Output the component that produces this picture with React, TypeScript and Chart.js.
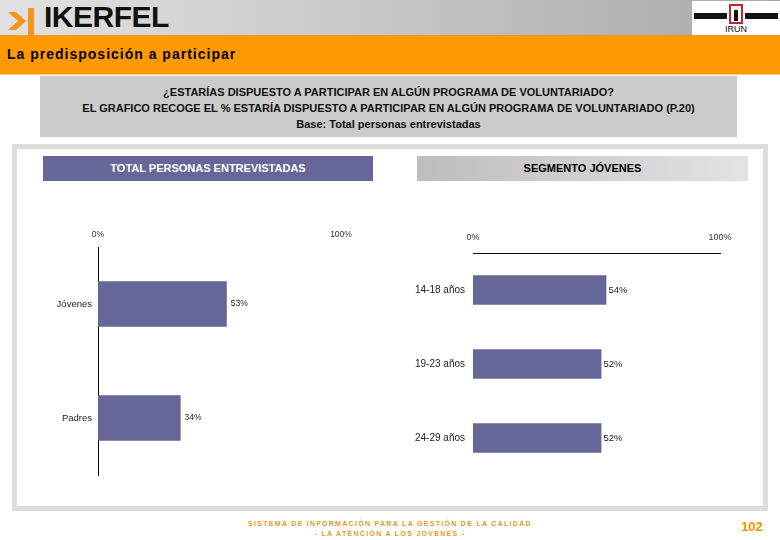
import React, { useEffect, useRef } from "react";
import { Chart, registerables } from "chart.js";

Chart.register(...registerables);

const leftCategories = ["Jóvenes", "Padres"];
const leftValues = [53, 34];
const rightCategories = ["14-18 años", "19-23 años", "24-29 años"];
const rightValues = [54, 52, 52];
const axisMin = 0;
const axisMax = 100;

const BAR = "#666699";
const FONT = "'Liberation Sans', Arial, sans-serif";

const valueLabels = (size: number, offset: number) => ({
  id: "valueLabels",
  afterDatasetsDraw(chart: any) {
    const ctx = chart.ctx;
    ctx.save();
    ctx.font = `${size}px ${FONT}`;
    ctx.fillStyle = "#222";
    ctx.textAlign = "left";
    ctx.textBaseline = "middle";
    chart.data.datasets.forEach((ds: any, i: number) => {
      chart.getDatasetMeta(i).data.forEach((el: any, j: number) => {
        ctx.fillText(ds.data[j] + "%", el.x + offset, el.y);
      });
    });
    ctx.restore();
  },
});

type Cfg = {
  labels: string[];
  values: number[];
  yWidth: number;
  xHeight: number;
  padRight: number;
  padBottom: number;
  tickFont: number;
  catFont: number;
  valFont: number;
  valOffset: number;
  catPad: number;
  tickPad: number;
  yBorder: boolean;
  xBorder: boolean;
};

function BarChart({ cfg, width, height, style }: { cfg: Cfg; width: number; height: number; style: any }) {
  const ref = useRef<HTMLCanvasElement>(null);
  useEffect(() => {
    if (!ref.current) return;
    const chart = new Chart(ref.current, {
      type: "bar",
      data: {
        labels: cfg.labels,
        datasets: [
          {
            data: cfg.values,
            backgroundColor: BAR,
            borderWidth: 0,
            barPercentage: 0.4,
            categoryPercentage: 1,
          },
        ],
      },
      options: {
        indexAxis: "y",
        responsive: false,
        animation: false,
        layout: { padding: { left: 0, top: 0, right: cfg.padRight, bottom: cfg.padBottom } },
        plugins: { legend: { display: false }, tooltip: { enabled: false } },
        scales: {
          x: {
            position: "top",
            min: axisMin,
            max: axisMax,
            grid: { display: false, drawTicks: false },
            border: { display: cfg.xBorder, color: "#000", width: 1 },
            ticks: {
              stepSize: axisMax - axisMin,
              padding: cfg.tickPad,
              color: "#333",
              font: { family: FONT, size: cfg.tickFont },
              maxRotation: 0,
              callback: (v: any) => v + "%",
            },
            afterFit: (s: any) => {
              s.height = cfg.xHeight;
            },
          },
          y: {
            grid: { display: false, drawTicks: false },
            border: { display: cfg.yBorder, color: "#000", width: 1 },
            ticks: {
              padding: cfg.catPad,
              color: "#222",
              font: { family: FONT, size: cfg.catFont },
            },
            afterFit: (s: any) => {
              s.width = cfg.yWidth;
            },
          },
        },
      },
      plugins: [valueLabels(cfg.valFont, cfg.valOffset)],
    });
    return () => chart.destroy();
  }, []);
  return <canvas ref={ref} width={width} height={height} style={{ position: "absolute", width, height, ...style }} />;
}

export default function App() {
  const leftCfg: Cfg = {
    labels: leftCategories,
    values: leftValues,
    yWidth: 81,
    xHeight: 47,
    padRight: 36,
    padBottom: 15,
    tickFont: 8.5,
    catFont: 9.5,
    valFont: 8.5,
    valOffset: 4,
    catPad: 6,
    tickPad: 7,
    yBorder: true,
    xBorder: false,
  };
  const rightCfg: Cfg = {
    labels: rightCategories,
    values: rightValues,
    yWidth: 78,
    xHeight: 53,
    padRight: 45,
    padBottom: 15,
    tickFont: 9,
    catFont: 10,
    valFont: 9.5,
    valOffset: 2,
    catPad: 8,
    tickPad: 10,
    yBorder: false,
    xBorder: true,
  };

  const box: any = { position: "absolute" };
  const hdrFont = "'Liberation Sans Narrow', 'Arial Narrow', " + FONT;
  return (
    <div style={{ position: "fixed", left: 0, top: 0, width: 780, height: 540, background: "#fff", overflow: "hidden", fontFamily: FONT }}>
      {/* top header */}
      <div style={{ ...box, left: 0, top: 0, width: 780, height: 35, background: "linear-gradient(to right, #e2e2e2, #a9a9a9)" }} />
      <svg style={{ position: "absolute", left: 6, top: 6 }} width={32} height={29}>
        <polygon points="2,6 10,6 20,15 10,24 2,24 12,15" fill="#f7941d" />
        <rect x={22} y={2} width={6} height={27} fill="#f7941d" />
      </svg>
      <div style={{ ...box, left: 44, top: 1, fontSize: 30, fontWeight: 900, color: "#111", letterSpacing: -0.5, lineHeight: "32px" }}>
        IKERFEL
      </div>
      {/* right logo */}
      <div style={{ ...box, left: 692, top: 1, width: 88, height: 34, background: "#fff" }} />
      <div style={{ ...box, left: 694, top: 13, width: 33, height: 6, background: "#111" }} />
      <div style={{ ...box, left: 745, top: 13, width: 33, height: 6, background: "#111" }} />
      <svg style={{ position: "absolute", left: 728, top: 2 }} width={16} height={24}>
        <rect x={2} y={3} width={12} height={18} fill="none" stroke="#c0272d" strokeWidth={2} />
        <rect x={6} y={8} width={4} height={11} fill="#111" />
      </svg>
      <div style={{ ...box, left: 722, top: 24, width: 28, textAlign: "center", fontSize: 9, color: "#111", lineHeight: "11px" }}>IRUN</div>

      {/* orange band */}
      <div style={{ ...box, left: 0, top: 35, width: 780, height: 40, background: "#ff9900" }} />
      <div style={{ ...box, left: 0, top: 74, width: 780, height: 1, background: "#ffd27a" }} />
      <div style={{ ...box, left: 7, top: 46, fontSize: 14, fontWeight: 700, letterSpacing: 1.0, color: "#000", lineHeight: "16px" }}>
        La predisposición a participar
      </div>

      {/* question box */}
      <div style={{ ...box, left: 40, top: 76, width: 697, height: 61, background: "#cbcbcb" }} />
      <div style={{ ...box, left: 40, top: 84, width: 697, textAlign: "center", fontFamily: hdrFont, fontWeight: 700, fontSize: 11, color: "#111", lineHeight: "16px" }}>
        <div>¿ESTARÍAS DISPUESTO A PARTICIPAR EN ALGÚN PROGRAMA DE VOLUNTARIADO?</div>
        <div>EL GRAFICO RECOGE EL % ESTARÍA DISPUESTO A PARTICIPAR EN ALGÚN PROGRAMA DE VOLUNTARIADO (P.20)</div>
        <div>Base: Total personas entrevistadas</div>
      </div>

      {/* frame */}
      <div style={{ ...box, left: 12, top: 144, width: 746, height: 357, border: "5px solid #dcdcdc" }} />

      {/* panel headers */}
      <div style={{ ...box, left: 43, top: 156, width: 330, height: 25, background: "#666699", color: "#fff", textAlign: "center", lineHeight: "25px", fontFamily: hdrFont, fontWeight: 700, fontSize: 11 }}>
        TOTAL PERSONAS ENTREVISTADAS
      </div>
      <div style={{ ...box, left: 417, top: 156, width: 331, height: 25, background: "linear-gradient(to right, #bdbdbd, #e3e3e3)", color: "#000", textAlign: "center", lineHeight: "25px", fontFamily: hdrFont, fontWeight: 700, fontSize: 11 }}>
        SEGMENTO JÓVENES
      </div>

      {/* charts */}
      <BarChart cfg={leftCfg} width={360} height={290} style={{ left: 17, top: 200 }} />
      <BarChart cfg={rightCfg} width={370} height={290} style={{ left: 395, top: 200 }} />

      {/* footer */}
      <div style={{ ...box, left: 190, top: 519, width: 400, textAlign: "center", fontSize: 7, fontWeight: 700, letterSpacing: 1.3, color: "#e69a1e", lineHeight: "10px" }}>
        <div>SISTEMA DE INFORMACIÓN PARA LA GESTIÓN DE LA CALIDAD</div>
        <div>- LA ATENCIÓN A LOS JÓVENES -</div>
      </div>
      <div style={{ ...box, left: 736, top: 519, width: 32, textAlign: "center", fontSize: 13, fontWeight: 700, color: "#e39a00", lineHeight: "16px" }}>
        102
      </div>
    </div>
  );
}
